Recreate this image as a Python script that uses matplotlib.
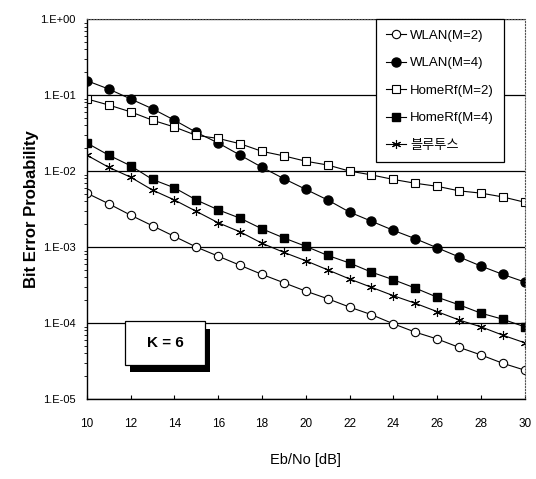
import numpy as np
import matplotlib
matplotlib.use("Agg")
import matplotlib.pyplot as plt
from matplotlib.patches import Rectangle
from matplotlib.ticker import FixedLocator, LogLocator, NullFormatter

plt.rcParams['font.family'] = ['Liberation Sans', 'Noto Sans CJK KR']

# Eb/No [dB]
ebno = np.arange(10, 31)

# log10 of the bit error probability per scheme
wlan_m2 = [-2.29, -2.43, -2.58, -2.72, -2.86, -3.00, -3.12, -3.24, -3.36, -3.47, -3.58,
           -3.68, -3.79, -3.89, -4.01, -4.12, -4.21, -4.32, -4.42, -4.53, -4.62]
wlan_m4 = [-0.81, -0.92, -1.05, -1.18, -1.33, -1.49, -1.63, -1.79, -1.95, -2.10, -2.24,
           -2.38, -2.54, -2.66, -2.78, -2.89, -3.01, -3.13, -3.25, -3.36, -3.46]
homerf_m2 = [-1.05, -1.13, -1.22, -1.33, -1.42, -1.53, -1.57, -1.64, -1.74, -1.80, -1.87,
             -1.92, -2.00, -2.05, -2.11, -2.16, -2.20, -2.26, -2.29, -2.34, -2.41]
homerf_m4 = [-1.63, -1.79, -1.93, -2.11, -2.22, -2.38, -2.51, -2.62, -2.76, -2.88, -2.99,
             -3.11, -3.21, -3.33, -3.43, -3.54, -3.66, -3.76, -3.87, -3.95, -4.05]
bluetooth = [-1.79, -1.95, -2.08, -2.25, -2.38, -2.53, -2.68, -2.80, -2.95, -3.07, -3.18,
             -3.30, -3.42, -3.53, -3.64, -3.74, -3.85, -3.96, -4.05, -4.16, -4.26]

names = ['WLAN(M=2)', 'WLAN(M=4)', 'HomeRf(M=2)', 'HomeRf(M=4)', '블루투스']
series = [wlan_m2, wlan_m4, homerf_m2, homerf_m4, bluetooth]
y_ticks = [1e-5, 1e-4, 1e-3, 1e-2, 1e-1, 1e0]
y_labels = ['1.E-05', '1.E-04', '1.E-03', '1.E-02', '1.E-01', '1.E+00']
x_ticks = np.arange(10, 31, 2)

fig = plt.figure(figsize=(5.36, 4.79), dpi=100)
ax = fig.add_axes([0.162, 0.167, 0.817, 0.793])

styles = [
    dict(marker='o', mfc='white', mec='black', ms=6, mew=0.8),
    dict(marker='o', mfc='black', mec='black', ms=6.5),
    dict(marker='s', mfc='white', mec='black', ms=5.5, mew=0.8),
    dict(marker='s', mfc='black', mec='black', ms=5.5),
    dict(marker=(6, 2, 0), mfc='black', mec='black', ms=6.5, mew=0.8),
]
for vals, name, st in zip(series, names, styles):
    ax.plot(ebno, 10 ** np.array(vals), color='black', lw=0.8, label=name, **st)

ax.set_yscale('log')
ax.set_xlim(10, 30)
ax.set_ylim(1e-5, 1)
ax.yaxis.set_major_locator(FixedLocator(y_ticks))
ax.set_yticklabels(y_labels, fontsize=8)
ax.yaxis.set_minor_locator(LogLocator(base=10, subs=np.arange(2, 10)))
ax.yaxis.set_minor_formatter(NullFormatter())
ax.set_xticks(x_ticks)
ax.set_xticklabels([str(v) for v in x_ticks], fontsize=8.5)
ax.tick_params(axis='y', which='major', length=0, pad=8)
ax.tick_params(axis='y', which='minor', length=2, direction='out', width=0.6)
ax.tick_params(axis='x', length=3, direction='in', pad=14)

ax.grid(True, axis='y', which='major', color='black', lw=0.9)
for side in ['top', 'right']:
    ax.spines[side].set_linestyle(':')
    ax.spines[side].set_color('#555555')
    ax.spines[side].set_linewidth(0.8)
for side in ['left', 'bottom']:
    ax.spines[side].set_linewidth(1.0)

ax.set_ylabel('Bit Error Probability', fontsize=12, fontweight='bold', labelpad=1)
ax.set_xlabel('Eb/No [dB]', fontsize=10.5, labelpad=16)

leg = ax.legend(loc='upper left', bbox_to_anchor=(0.66, 1.0), fontsize=9.5,
                frameon=True, fancybox=False, edgecolor='black', framealpha=1,
                labelspacing=1.15, handlelength=1.5, handletextpad=0.3,
                borderpad=0.8, borderaxespad=0)
leg.get_frame().set_linewidth(0.9)

# "K = 6" box with drop shadow
ax.add_patch(Rectangle((0.098, 0.07), 0.183, 0.115, transform=ax.transAxes,
                       facecolor='black', edgecolor='none', zorder=5))
ax.add_patch(Rectangle((0.087, 0.09), 0.183, 0.115, transform=ax.transAxes,
                       facecolor='white', edgecolor='black', lw=0.9, zorder=6))
ax.text(0.1785, 0.1475, 'K = 6', transform=ax.transAxes, ha='center', va='center',
        fontsize=11, fontweight='bold', zorder=7)

fig.savefig('out.png', dpi=100)
